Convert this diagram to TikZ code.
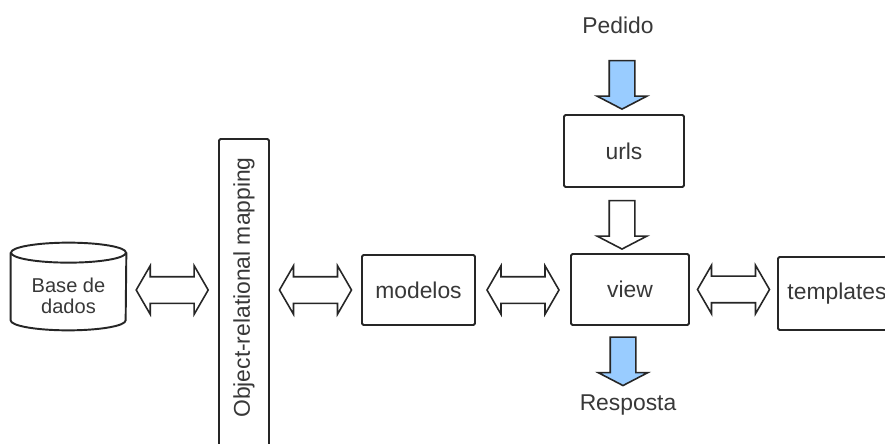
\documentclass[tikz,border=0pt]{standalone}
\usepackage{fontspec}
\setmainfont{Liberation Sans}
\usetikzlibrary{shapes.arrows, calc}
\definecolor{lineGray}{rgb}{0.15, 0.15, 0.15}
\definecolor{textGray}{rgb}{0.22, 0.22, 0.22}
\definecolor{lightBlue}{rgb}{0.6, 0.8, 1.0}

\tikzset{
	box/.style={draw=lineGray, line width=1.1pt, rounded corners=0.8pt, inner sep=0pt},
	cylline/.style={draw=lineGray, line width=1.1pt},
	txt/.style={text=textGray, font=\fontsize{13}{15}\selectfont},
	dblarrow/.style={double arrow, draw=lineGray, line width=0.9pt, fill=white, inner sep=0pt,
		text height=0.25cm, text depth=0.25cm, minimum height=1.44cm,
		double arrow head extend=0.22cm, double arrow tip angle=120},
	downarrow/.style={single arrow, rotate=-90, draw=lineGray, line width=0.9pt, inner sep=0pt,
		text height=0.24cm, text depth=0.24cm, minimum height=0.97cm,
		single arrow head extend=0.24cm, single arrow tip angle=125},
}

\begin{document}
\begin{tikzpicture}
			\fill[white] (0,0) rectangle (17.7,8.86);
			\useasboundingbox (0,0) rectangle (17.7,8.86);

			% Database (drawn round its node)
			\node[minimum width=2.3cm, minimum height=1.74cm, inner sep=0pt] (db) at (1.37,3.13) {};
			\draw[cylline] ([yshift=-0.2cm]db.north) ellipse [x radius=1.15cm, y radius=0.2cm];
			\draw[cylline] ([yshift=-0.2cm]db.north west) -- ([yshift=0.2cm]db.south west)
				arc[start angle=180, end angle=360, x radius=1.15cm, y radius=0.2cm] -- ([yshift=-0.2cm]db.north east);

			% Boxes
			\node[box, minimum width=1cm, minimum height=6.58cm] (orm) at (4.88,2.79) {};
			\node[box, txt, minimum width=2.26cm, minimum height=1.4cm] (modelos) at (8.37,3.06) {modelos};
			\node[box, txt, minimum width=2.4cm, minimum height=1.44cm] (urls) at (12.48,5.84) {urls};
			\node[box, txt, minimum width=2.36cm, minimum height=1.42cm] (view) at (12.6,3.07) {view};
			\node[box, txt, minimum width=2.36cm, minimum height=1.46cm] (templates) at (16.74,2.99) {templates};

			% Texts
			\node[txt, font=\fontsize{11.4}{12}\selectfont, align=center] (dbtext) at ([yshift=-0.19cm]db.center) {Base de\\dados};
			\node[txt, rotate=90] (ormtext) at (4.88,3.11) {Object-relational mapping};
			\node[txt] (pedido) at (12.36,8.36) {Pedido};
			\node[txt] (resposta) at (12.56,0.76) {Resposta};

			% Double arrows between the boxes
			\node[dblarrow] (a1) at ($(db.east|-modelos)!0.5!(orm.west|-modelos)$) {};
			\node[dblarrow] (a2) at ($(orm.east|-modelos)!0.5!(modelos.west)$) {};
			\node[dblarrow] (a3) at ($(modelos.east)!0.5!(view.west|-modelos)$) {};
			\node[dblarrow] (a4) at ($(view.east)!0.5!(templates.west|-view)$) {};

			% Request and response
			\node[downarrow, fill=lightBlue] (inarrow) at ($(urls.north)+(-0.04,0.65)$) {};
			\node[downarrow, fill=white] (midarrow) at ($(urls.south)+(-0.04,-0.67)$) {};
			\node[downarrow, fill=lightBlue] (outarrow) at ($(view.south)+(-0.14,-0.64)$) {};
		\end{tikzpicture}
\end{document}
